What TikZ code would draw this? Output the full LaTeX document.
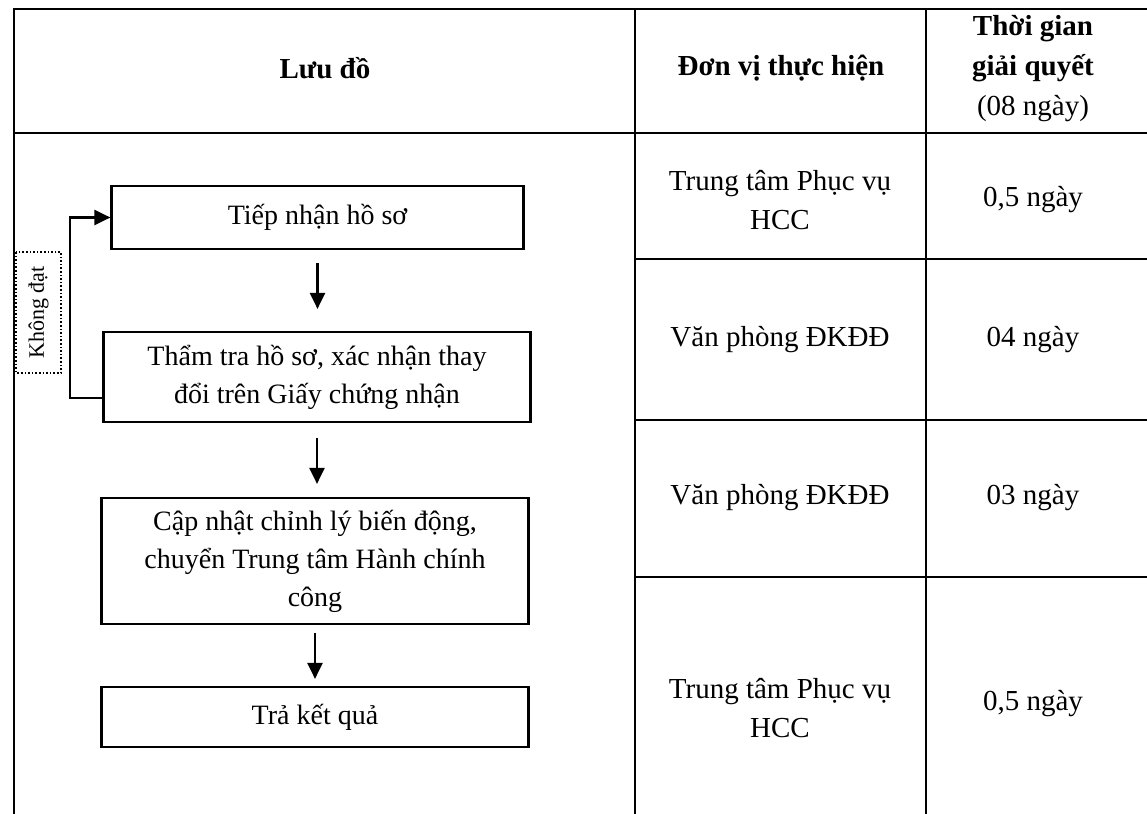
\documentclass[tikz,border=0pt]{standalone}
\usepackage{fontspec}
\setmainfont{Liberation Serif}
\usetikzlibrary{arrows.meta}

\begin{document}
\begin{tikzpicture}[x=0.5pt, y=-0.5pt,
    stepbox/.style={draw, line width=1.1pt, align=center, inner sep=0pt, font=\fontsize{14}{19}\selectfont},
    flowarrow/.style={-{Triangle[length=8pt,width=7.5pt]}, line width=1.1pt},
    cell/.style={align=center, font=\fontsize{14.5}{19.5}\selectfont},
    grid/.style={line width=0.9pt}]
  \useasboundingbox (0,0) rectangle (1147,814);

  % khung bang
  \draw[grid] (1147,9) -- (14,9) -- (14,814);
  \draw[grid] (14,133) -- (1147,133);
  \draw[grid] (635,9) -- (635,814);
  \draw[grid] (926,9) -- (926,814);
  \foreach \y in {259,420,577}
    \draw[grid] (635,\y) -- (1147,\y);

  % tieu de
  \node[cell, font=\bfseries\fontsize{14.5}{19.5}\selectfont] (hluudo) at (325,68) {Lưu đồ};
  \node[cell, font=\bfseries\fontsize{14.5}{19.5}\selectfont] (hdonvi) at (781,68) {Đơn vị thực hiện};
  \node[cell, font=\fontsize{14.5}{20}\selectfont] (hthoigian) at (1033,69) {\textbf{Thời gian}\\\textbf{giải quyết}\\(08 ngày)};

  % luu do
  \node[stepbox, minimum width=206pt, minimum height=31.5pt] (tiepnhan) at (317.5,217.5) {Tiếp nhận hồ sơ};
  \node[stepbox, minimum width=213.5pt, minimum height=45pt] (thamtra) at (317,377) {Thẩm tra hồ sơ, xác nhận thay\\đổi trên Giấy chứng nhận};
  \node[stepbox, minimum width=213.5pt, minimum height=63pt] (capnhat) at (315,561) {Cập nhật chỉnh lý biến động,\\chuyển Trung tâm Hành chính\\công};
  \node[stepbox, minimum width=213.5pt, minimum height=30pt] (trakq) at (315,717) {Trả kết quả};

  \draw[flowarrow, shorten <=6.5pt, shorten >=11pt] (tiepnhan.south) -- (tiepnhan.south |- thamtra.north);
  \draw[flowarrow, shorten <=7.5pt, shorten >=6.5pt] (thamtra.south) -- (thamtra.south |- capnhat.north);
  \draw[flowarrow, shorten <=4pt, shorten >=3.5pt] (capnhat.south) -- (capnhat.south |- trakq.north);

  % vong lai khi khong dat
  \coordinate (vong) at (70,217.5);
  \draw[flowarrow] ([yshift=-10.5pt]thamtra.west) -| (vong) -- (tiepnhan.west);
  \node[draw, densely dotted, line width=0.8pt, rotate=90, minimum width=60.5pt, minimum height=22.5pt, inner sep=1pt, font=\fontsize{11}{13}\selectfont] (khongdat) at (38.5,312.5) {Không đạt};

  % don vi va thoi gian
  \node[cell] (dv1) at (780,200) {Trung tâm Phục vụ\\HCC};
  \node[cell] (tg1) at (1033,200) {0,5 ngày};
  \node[cell] (dv2) at (780,340) {Văn phòng ĐKĐĐ};
  \node[cell] (tg2) at (1033,340) {04 ngày};
  \node[cell] (dv3) at (780,498) {Văn phòng ĐKĐĐ};
  \node[cell] (tg3) at (1033,498) {03 ngày};
  \node[cell] (dv4) at (780,708) {Trung tâm Phục vụ\\HCC};
  \node[cell] (tg4) at (1033,704) {0,5 ngày};
\end{tikzpicture}
\end{document}
